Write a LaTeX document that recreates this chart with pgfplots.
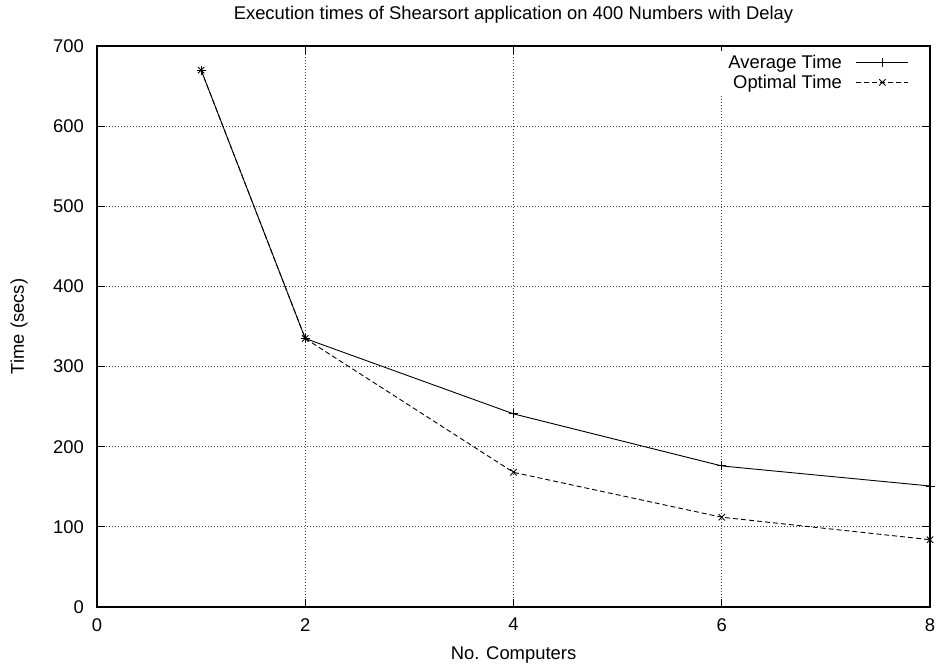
\documentclass[border=0pt]{standalone}
\usepackage{pgfplots}
\pgfplotsset{compat=1.18}
\usepackage{fontspec}
\setmainfont{Liberation Sans}
\newcommand{\chf}{\fontsize{18.4}{22}\selectfont}
\begin{document}
\begin{tikzpicture}
\useasboundingbox (-97pt,-61pt) rectangle (844pt,607pt);
\begin{axis}[
  at={(0pt,0pt)}, anchor=origin,
  scale only axis, width=833pt, height=561pt,
  xmin=0, xmax=8, ymin=0, ymax=700,
  xtick={0,2,4,6,8}, ytick={0,100,...,700},
  /pgf/number format/assume math mode=true,
  tick label style={font=\chf, inner sep=0pt},
  xticklabel style={anchor=north, yshift=-11pt},
  yticklabel style={anchor=east, xshift=-13pt},
  major tick length=8pt,
  tick align=inside,
  tick style={line width=0.9pt, black},
  axis line style={line width=1.1pt},
  grid=major,
  major grid style={line width=0.9pt, black!75, dash pattern=on 1pt off 2pt},
  title={Execution times of Shearsort application on 400 Numbers with Delay},
  title style={font=\chf, at={(axis description cs:0.5,1)}, anchor=base, yshift=20pt, inner sep=0pt},
  xlabel={No. Computers},
  xlabel style={font=\chf, at={(axis description cs:0.5,0)}, anchor=base, yshift=-52pt, inner sep=0pt},
  ylabel={Time (secs)},
  ylabel style={font=\chf, at={(axis description cs:-0.0936,0.5)}, anchor=center, inner sep=0pt},
  legend plot pos=right,
  legend cell align=right,
  legend image code/.code={\draw[mark repeat=2,mark phase=2,#1] plot coordinates {(0pt,0pt)(26pt,0pt)(52pt,0pt)};},
  legend style={font=\chf, draw=none, fill=white, at={(axis description cs:1,1)}, anchor=north east,
    xshift=-7pt, yshift=-5pt, inner xsep=14pt, inner ysep=2pt, row sep=1pt, column sep=12pt},
]
\addplot[black, line width=0.9pt, mark=+, mark size=4.5pt, mark options={solid}]
  coordinates {(1,670) (2,335) (4,241) (6,176) (8,151)};
\addlegendentry{Average Time}
\addplot[black, line width=0.9pt, dash pattern=on 5pt off 3pt, mark=x, mark size=4.5pt, mark options={solid}]
  coordinates {(1,670) (2,335) (4,168) (6,112) (8,84)};
\addlegendentry{Optimal Time}
\end{axis}
\end{tikzpicture}
\end{document}
